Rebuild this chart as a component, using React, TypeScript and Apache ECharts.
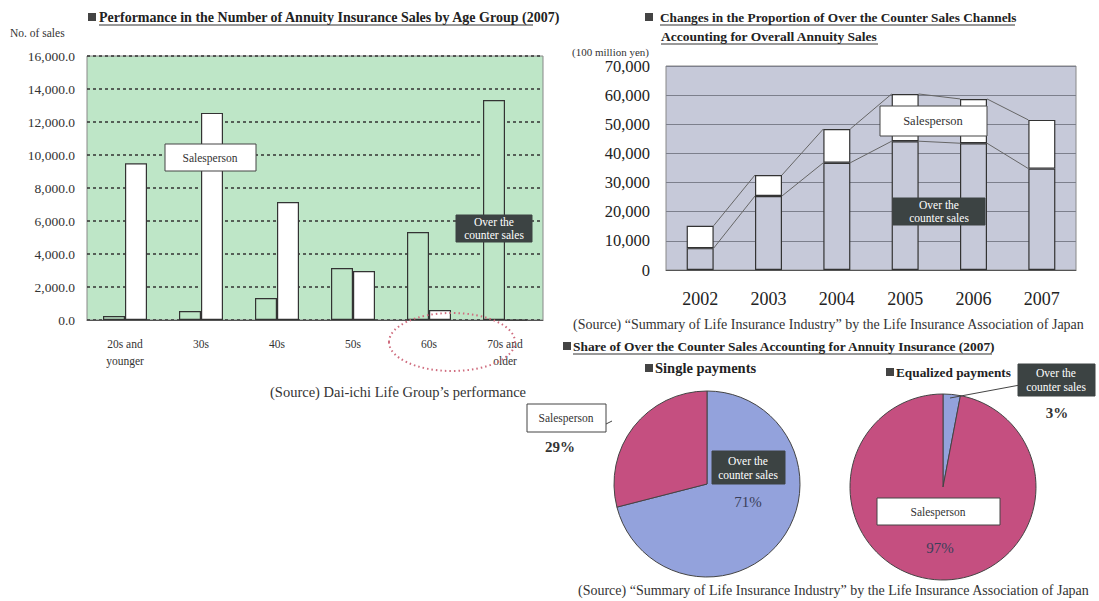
import React, { useEffect, useRef } from "react";
import * as echarts from "echarts";

// ---- Data ----
const ageGroups = ["20s and\nyounger", "30s", "40s", "50s", "60s", "70s and\nolder"];
const ageOverCounter = [240, 550, 1330, 3150, 5330, 13330];
const ageSalesperson = [9500, 12550, 7150, 2970, 600, 0];

const years = ["2002", "2003", "2004", "2005", "2006", "2007"];
const yearOverCounter = [7500, 25400, 36800, 44200, 43500, 34800];
const yearSalesperson = [7700, 7200, 11600, 16200, 15200, 16700];

const pieSingle = [
  { name: "Over the counter sales", value: 71 },
  { name: "Salesperson", value: 29 },
];
const pieEqualized = [
  { name: "Over the counter sales", value: 3 },
  { name: "Salesperson", value: 97 },
];

const SERIF = '"Liberation Serif", "Times New Roman", serif';
const GREEN_BG = "#bee6c7";
const GRAY_BG = "#c6c9d9";
const DARK_BOX = "#3c4343";
const BLUE = "#93a2dc";
const MAGENTA = "#c54f80";

function fmt1(v: number) {
  return v.toLocaleString("en-US", { minimumFractionDigits: 1, maximumFractionDigits: 1 });
}
function fmt0(v: number) {
  return v.toLocaleString("en-US");
}

function txt(text: string, x: number, y: number, opts: any = {}) {
  return {
    type: "text",
    x,
    y,
    z: 100,
    style: {
      text,
      fontFamily: SERIF,
      fontSize: opts.fontSize ?? 12,
      fontWeight: opts.fontWeight ?? "normal",
      fill: opts.fill ?? "#333",
      align: opts.align ?? "left",
      verticalAlign: "middle",
      lineHeight: opts.lineHeight,
    },
  };
}
function box(x: number, y: number, w: number, h: number, dark: boolean) {
  return {
    type: "rect",
    z: 99,
    shape: { x, y, width: w, height: h },
    style: { fill: dark ? DARK_BOX : "#ffffff", stroke: dark ? DARK_BOX : "#444", lineWidth: 1 },
  };
}
function ln(x1: number, y1: number, x2: number, y2: number, stroke = "#444", lw = 1) {
  return { type: "line", z: 99, shape: { x1, y1, x2, y2 }, style: { stroke, lineWidth: lw } };
}
function square(x: number, y: number) {
  return { type: "rect", z: 100, shape: { x, y, width: 8, height: 8 }, style: { fill: "#444" } };
}

function seriesLinePairs(vals: number[]) {
  const out: number[][] = [];
  for (let i = 0; i < vals.length - 1; i++) out.push([i, vals[i], vals[i + 1]]);
  return out;
}

export default function App() {
  const ref = useRef<HTMLDivElement>(null);
  useEffect(() => {
    if (!ref.current) return;
    const chart = echarts.init(ref.current, undefined, { renderer: "svg" });
    const yearTotals = yearOverCounter.map((v, i) => v + yearSalesperson[i]);
    const BW2 = 27;

    const renderSeriesLine = (params: any, api: any) => {
      const i = api.value(0);
      const p1 = api.coord([i, api.value(1)]);
      const p2 = api.coord([i + 1, api.value(2)]);
      return {
        type: "line",
        shape: { x1: p1[0] + BW2 / 2, y1: p1[1], x2: p2[0] - BW2 / 2, y2: p2[1] },
        style: { stroke: "#666", lineWidth: 1 },
      };
    };

    const option: any = {
      animation: false,
      backgroundColor: "#ffffff",
      textStyle: { fontFamily: SERIF },
      grid: [
        { left: 87, top: 56, width: 456, height: 264, show: true, backgroundColor: GREEN_BG, borderColor: "#888", borderWidth: 1 },
        { left: 666, top: 66, width: 410, height: 204, show: true, backgroundColor: GRAY_BG, borderColor: "#888", borderWidth: 1 },
      ],
      xAxis: [
        {
          type: "category",
          gridIndex: 0,
          data: ageGroups,
          axisLine: { lineStyle: { color: "#555" } },
          axisTick: { show: false },
          axisLabel: { fontFamily: SERIF, fontSize: 11.5, color: "#333", margin: 15, lineHeight: 17, interval: 0 },
        },
        {
          type: "category",
          gridIndex: 1,
          data: years,
          axisLine: { lineStyle: { color: "#555" } },
          axisTick: { show: false },
          axisLabel: { fontFamily: SERIF, fontSize: 18, color: "#222", margin: 20 },
        },
      ],
      yAxis: [
        {
          type: "value",
          gridIndex: 0,
          min: 0,
          max: 16000,
          interval: 2000,
          axisLine: { show: false },
          axisTick: { show: false },
          axisLabel: { fontFamily: SERIF, fontSize: 13.5, color: "#333", margin: 12, formatter: (v: number) => fmt1(v) },
          splitLine: { lineStyle: { color: "#333", type: [3, 3], width: 1.5 } },
        },
        {
          type: "value",
          gridIndex: 1,
          min: 0,
          max: 70000,
          interval: 10000,
          axisLine: { show: false },
          axisTick: { show: false },
          axisLabel: { fontFamily: SERIF, fontSize: 16.5, color: "#222", margin: 16, formatter: (v: number) => fmt0(v) },
          splitLine: { lineStyle: { color: "#7c7f8c", width: 1 } },
        },
      ],
      series: [
        {
          name: "Over the counter sales",
          type: "bar",
          xAxisIndex: 0,
          yAxisIndex: 0,
          data: ageOverCounter,
          barWidth: 22,
          barGap: "0%",
          itemStyle: { color: GREEN_BG, borderColor: "#333", borderWidth: 1.2 },
        },
        {
          name: "Salesperson",
          type: "bar",
          xAxisIndex: 0,
          yAxisIndex: 0,
          data: ageSalesperson,
          barWidth: 22,
          barGap: "0%",
          itemStyle: { color: "#ffffff", borderColor: "#333", borderWidth: 1.2 },
        },
        {
          name: "Total series line",
          type: "custom",
          xAxisIndex: 1,
          yAxisIndex: 1,
          z: 1,
          data: seriesLinePairs(yearTotals),
          renderItem: renderSeriesLine,
        },
        {
          name: "OTC series line",
          type: "custom",
          xAxisIndex: 1,
          yAxisIndex: 1,
          z: 1,
          data: seriesLinePairs(yearOverCounter),
          renderItem: renderSeriesLine,
        },
        {
          name: "Over the counter sales (yen)",
          type: "bar",
          stack: "y",
          xAxisIndex: 1,
          yAxisIndex: 1,
          z: 3,
          data: yearOverCounter,
          barWidth: BW2,
          itemStyle: { color: GRAY_BG, borderColor: "#333", borderWidth: 1.2 },
        },
        {
          name: "Salesperson (yen)",
          type: "bar",
          stack: "y",
          xAxisIndex: 1,
          yAxisIndex: 1,
          z: 3,
          data: yearSalesperson,
          barWidth: BW2,
          itemStyle: { color: "#ffffff", borderColor: "#333", borderWidth: 1.2 },
        },
        {
          name: "Single payments",
          type: "pie",
          center: [707, 484],
          radius: 93,
          startAngle: 90,
          clockwise: true,
          label: { show: false },
          labelLine: { show: false },
          data: pieSingle,
          color: [BLUE, MAGENTA],
          itemStyle: { borderColor: "#444", borderWidth: 1 },
        },
        {
          name: "Equalized payments",
          type: "pie",
          center: [943, 487],
          radius: 93,
          startAngle: 90,
          clockwise: true,
          label: { show: false },
          labelLine: { show: false },
          data: pieEqualized,
          color: [BLUE, MAGENTA],
          itemStyle: { borderColor: "#444", borderWidth: 1 },
        },
      ],
      graphic: [
        // Left chart title
        square(88, 13),
        txt("Performance in the Number of Annuity Insurance Sales by Age Group (2007)", 99, 17, { fontSize: 14, fontWeight: "bold", fill: "#222" }),
        ln(99, 25, 533, 25, "#333", 1),
        txt("No. of sales", 10, 33, { fontSize: 11.5 }),
        // Left chart annotations
        box(165, 144, 91, 27, false),
        txt("Salesperson", 210, 157.5, { fontSize: 11.5, align: "center" }),
        box(456, 215, 76, 27, true),
        txt("Over the\ncounter sales", 494, 228.5, { fontSize: 11.5, align: "center", fill: "#fff", lineHeight: 13 }),
        {
          type: "ellipse",
          z: 101,
          shape: { cx: 452, cy: 342, rx: 63, ry: 29 },
          style: { fill: "none", stroke: "#cf6c7e", lineWidth: 2, lineDash: [1.5, 3] },
        },
        txt("(Source) Dai-ichi Life Group\u2019s performance", 270, 392, { fontSize: 14.5 }),

        // Right chart title
        square(645, 13),
        txt("Changes in the Proportion of Over the Counter Sales Channels", 660, 17, { fontSize: 13.3, fontWeight: "bold", fill: "#222" }),
        ln(660, 25, 1015, 25, "#333", 1),
        txt("Accounting for Overall Annuity Sales", 661, 36, { fontSize: 13.5, fontWeight: "bold", fill: "#222" }),
        ln(661, 44, 878, 44, "#333", 1),
        txt("(100 million yen)", 572, 52, { fontSize: 11 }),
        box(880, 106, 107, 30, false),
        txt("Salesperson", 933, 121, { fontSize: 12.5, align: "center" }),
        box(893, 198, 92, 27, true),
        txt("Over the\ncounter sales", 939, 211.5, { fontSize: 11.5, align: "center", fill: "#fff", lineHeight: 13 }),
        txt("(Source) \u201CSummary of Life Insurance Industry\u201D by the Life Insurance Association of Japan", 573, 324, { fontSize: 14 }),

        // Pie section
        square(563, 342),
        txt("Share of Over the Counter Sales Accounting for Annuity Insurance (2007)", 573, 346, { fontSize: 13.4, fontWeight: "bold", fill: "#222" }),
        ln(573, 354, 992, 354, "#333", 1),
        square(645, 364),
        txt("Single payments", 655, 368, { fontSize: 14.5, fontWeight: "bold", fill: "#222" }),
        square(886, 368),
        txt("Equalized payments", 896, 372, { fontSize: 13.3, fontWeight: "bold", fill: "#222" }),

        box(527, 404, 79, 28, false),
        txt("Salesperson", 566, 418, { fontSize: 11.5, align: "center" }),
        ln(606, 424, 612, 421, "#444", 1),
        txt(`${pieSingle[1].value}%`, 560, 447, { fontSize: 15, fontWeight: "bold", align: "center", fill: "#333" }),
        box(712, 451, 73, 33, true),
        txt("Over the\ncounter sales", 748, 467.5, { fontSize: 11.5, align: "center", fill: "#fff", lineHeight: 14 }),
        txt(`${pieSingle[0].value}%`, 748, 502, { fontSize: 15, align: "center", fill: "#3a3f5a" }),

        box(1018, 364, 77, 32, true),
        txt("Over the\ncounter sales", 1056, 380, { fontSize: 11.5, align: "center", fill: "#fff", lineHeight: 14 }),
        ln(1020, 385, 950, 398, "#444", 1),
        txt(`${pieEqualized[0].value}%`, 1057, 413, { fontSize: 15, fontWeight: "bold", align: "center", fill: "#333" }),
        box(877, 498, 123, 27, false),
        txt("Salesperson", 938, 511.5, { fontSize: 11.5, align: "center" }),
        txt(`${pieEqualized[1].value}%`, 940, 548, { fontSize: 15, align: "center", fill: "#3a3f5a" }),

        txt("(Source) \u201CSummary of Life Insurance Industry\u201D by the Life Insurance Association of Japan", 578, 590, { fontSize: 14 }),
      ],
    };
    chart.setOption(option);
    return () => chart.dispose();
  }, []);

  return (
    <div
      ref={ref}
      style={{ position: "fixed", left: 0, top: 0, width: 1099, height: 601, background: "#fff" }}
    />
  );
}
